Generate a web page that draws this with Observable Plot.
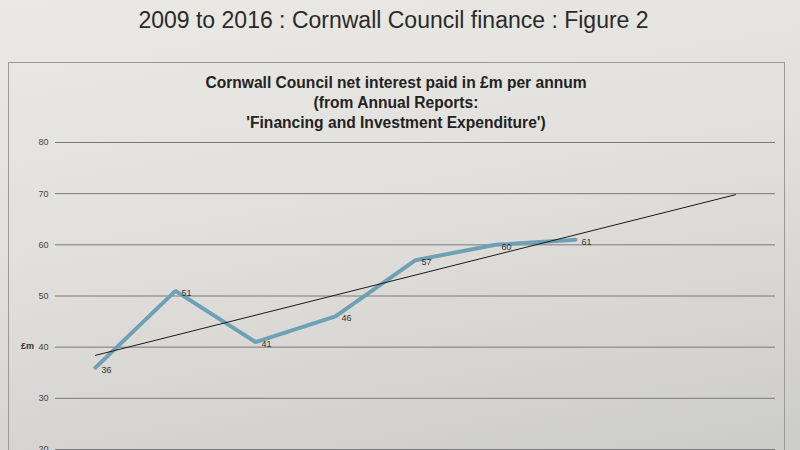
<!DOCTYPE html>
<html>
<head>
<meta charset="utf-8">
<script src="https://cdn.jsdelivr.net/npm/d3@7"></script>
<script src="https://cdn.jsdelivr.net/npm/@observablehq/plot@0.6"></script>
<style>
  html, body { margin: 0; padding: 0; }
  body {
    width: 800px; height: 450px; overflow: hidden; position: relative;
    font-family: "Liberation Sans", Arial, sans-serif;
    background: linear-gradient(170deg, #ebe9e5 0%, #e2e0dc 45%, #cccccb 100%);
  }
  #pagetitle {
    position: absolute; left: 0; top: 7px; width: 787px; text-align: center;
    font-size: 23px; color: #2a2a2a;
  }
  #frame {
    position: absolute; left: 8px; top: 62px; width: 777px; height: 420px;
    border: 1px solid #9a9a9a; box-sizing: border-box;
  }
  #charttitle {
    position: absolute; left: 0; top: 73px; width: 792px; text-align: center;
    font-size: 15.6px; font-weight: bold; line-height: 20px; color: #222;
  }
  #ylab {
    position: absolute; left: 21px; top: 341px; font-size: 9px; font-weight: bold; color: #333;
  }
  #chart { position: absolute; left: 0; top: 130px; }
</style>
</head>
<body>
<div id="pagetitle">2009 to 2016 : Cornwall Council finance : Figure 2</div>
<div id="frame"></div>
<div id="charttitle">Cornwall Council net interest paid in £m per annum<br>(from Annual Reports:<br>'Financing and Investment Expenditure')</div>
<div id="ylab">£m</div>
<div id="chart"></div>
<script>
// Data
const years = [2009, 2010, 2011, 2012, 2013, 2014, 2015];
const interest = [36, 51, 41, 46, 57, 60, 61];
const trendYears = [2009, 2017];
const trendValues = [38.4, 69.8];
const yTicks = [20, 30, 40, 50, 60, 70, 80];

const series = years.map((y, i) => ({year: y, value: interest[i]}));
const trend = trendYears.map((y, i) => ({year: y, value: trendValues[i]}));

const chart = Plot.plot({
  width: 800,
  height: 339,
  marginTop: 12,
  marginBottom: 20,
  marginLeft: 55,
  marginRight: 25,
  style: {background: "transparent", fontFamily: "Liberation Sans, Arial, sans-serif", color: "#444"},
  x: {domain: [2008.5, 2017.5], axis: null},
  y: {domain: [20, 80], ticks: yTicks, tickSize: 0, tickPadding: 7, label: null, fontSize: 9},
  marks: [
    Plot.ruleY(yTicks, {stroke: "#7a7a7a", strokeWidth: 1}),
    Plot.axisY({ticks: yTicks, tickSize: 0, tickPadding: 7, label: null, fontSize: 9, fill: "#444"}),
    Plot.line(series, {x: "year", y: "value", stroke: "#6fa1b6", strokeWidth: 4, strokeLinejoin: "miter"}),
    Plot.line(trend, {x: "year", y: "value", stroke: "#1a1a1a", strokeWidth: 1}),
    Plot.text(series, {x: "year", y: "value", text: d => String(d.value), dx: 6, dy: 2, textAnchor: "start", fontSize: 9, fill: "#333"})
  ]
});
document.getElementById("chart").appendChild(chart);
</script>
</body>
</html>
